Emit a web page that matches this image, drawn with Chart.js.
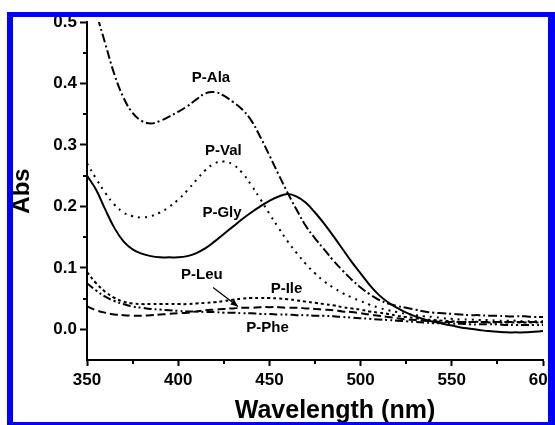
<!DOCTYPE html>
<html>
<head>
<meta charset="utf-8">
<title>Abs spectra</title>
<script src="https://cdn.jsdelivr.net/npm/chart.js@4.4.1/dist/chart.umd.min.js"></script>
<style>
    html, body { margin: 0; padding: 0; background: #fff; overflow: hidden; }
    #wrap { position: relative; width: 555px; height: 425px; }
    #frame {
        position: absolute; left: 7px; top: 12px; right: 0; bottom: 0;
        box-sizing: border-box;
        border-style: solid; border-color: #0000ff;
        border-width: 5px 7px 3px 6px;
        pointer-events: none;
    }
</style>
</head>
<body>
<div id="wrap">
    <canvas id="absChart" width="555" height="425"></canvas>
    <div id="frame"></div>
</div>
<script>
// Data
const wavelengths = [350, 355, 360, 365, 370, 375, 380, 385, 390, 395, 400, 405, 410, 415, 420, 425, 430, 435, 440, 445,
    450, 455, 460, 465, 470, 475, 480, 485, 490, 495, 500, 505, 510, 515, 520, 525, 530, 535, 540, 545,
    550, 555, 560, 565, 570, 575, 580, 585, 590, 595, 600];

const absAla = [0.560, 0.515, 0.465, 0.415, 0.377, 0.352, 0.339, 0.335, 0.339, 0.346, 0.354, 0.363, 0.374, 0.384, 0.386, 0.380, 0.370, 0.358, 0.340, 0.313,
    0.283, 0.252, 0.222, 0.194, 0.168, 0.148, 0.130, 0.112, 0.096, 0.081, 0.068, 0.057, 0.048, 0.042, 0.038, 0.035, 0.032, 0.029, 0.027, 0.026,
    0.025, 0.024, 0.023, 0.023, 0.022, 0.022, 0.021, 0.021, 0.021, 0.020, 0.020];

const absVal = [0.270, 0.245, 0.222, 0.203, 0.190, 0.184, 0.182, 0.184, 0.190, 0.199, 0.211, 0.226, 0.243, 0.259, 0.270, 0.273, 0.268, 0.255, 0.235, 0.212,
    0.188, 0.165, 0.143, 0.124, 0.106, 0.091, 0.078, 0.068, 0.059, 0.052, 0.046, 0.040, 0.035, 0.031, 0.028, 0.025, 0.023, 0.021, 0.020, 0.018,
    0.017, 0.016, 0.016, 0.015, 0.015, 0.014, 0.014, 0.014, 0.013, 0.013, 0.013];

const absGly = [0.250, 0.227, 0.195, 0.165, 0.143, 0.130, 0.123, 0.119, 0.117, 0.117, 0.117, 0.119, 0.124, 0.132, 0.143, 0.155, 0.167, 0.179, 0.190, 0.200,
    0.209, 0.216, 0.220, 0.216, 0.206, 0.190, 0.172, 0.152, 0.131, 0.110, 0.091, 0.072, 0.056, 0.044, 0.035, 0.027, 0.021, 0.016, 0.012, 0.009,
    0.006, 0.003, 0.001, -0.001, -0.003, -0.004, -0.005, -0.005, -0.005, -0.004, -0.003];

const absIle = [0.093, 0.075, 0.061, 0.051, 0.045, 0.042, 0.041, 0.041, 0.041, 0.041, 0.041, 0.041, 0.042, 0.043, 0.044, 0.046, 0.048, 0.050, 0.051, 0.051,
    0.051, 0.050, 0.049, 0.047, 0.045, 0.043, 0.041, 0.039, 0.036, 0.034, 0.032, 0.029, 0.027, 0.025, 0.022, 0.020, 0.018, 0.016, 0.015, 0.014,
    0.013, 0.012, 0.012, 0.012, 0.011, 0.011, 0.011, 0.011, 0.011, 0.011, 0.011];

const absPhe = [0.075, 0.063, 0.053, 0.046, 0.041, 0.037, 0.035, 0.033, 0.032, 0.031, 0.030, 0.029, 0.029, 0.028, 0.028, 0.027, 0.027, 0.026, 0.026, 0.025,
    0.025, 0.024, 0.024, 0.023, 0.023, 0.022, 0.022, 0.021, 0.020, 0.019, 0.018, 0.017, 0.016, 0.015, 0.014, 0.013, 0.012, 0.011, 0.010, 0.010,
    0.009, 0.009, 0.008, 0.008, 0.008, 0.008, 0.007, 0.007, 0.007, 0.007, 0.007];

const absLeu = [0.037, 0.031, 0.027, 0.024, 0.023, 0.022, 0.022, 0.023, 0.024, 0.025, 0.026, 0.027, 0.029, 0.031, 0.032, 0.033, 0.034, 0.035, 0.035, 0.036,
    0.036, 0.036, 0.035, 0.035, 0.034, 0.033, 0.032, 0.031, 0.029, 0.028, 0.026, 0.024, 0.022, 0.020, 0.018, 0.016, 0.015, 0.014, 0.013, 0.012,
    0.012, 0.012, 0.012, 0.012, 0.012, 0.012, 0.012, 0.012, 0.012, 0.012, 0.012];

const seriesNames = ['P-Ala', 'P-Val', 'P-Gly', 'P-Ile', 'P-Phe', 'P-Leu'];
const seriesValues = [absAla, absVal, absGly, absIle, absPhe, absLeu];
const seriesDashes = [[9, 3, 2, 3], [2, 5], [], [3, 3], [8, 3, 2, 3, 2, 3], [8, 4]];

// curve labels placed in data units (wavelength, abs)
const labelNames = ['P-Ala', 'P-Val', 'P-Gly', 'P-Leu', 'P-Ile', 'P-Phe'];
const labelX = [418, 424.8, 424, 413, 459.4, 449];
const labelY = [0.409, 0.291, 0.189, 0.089, 0.066, 0.002];
const leuArrow = [[419.1, 0.068], [432.8, 0.037]];

const xTicksMinor = [375, 425, 475, 525, 575];
const yTicksMinor = [0.05, 0.15, 0.25, 0.35, 0.45];

const FONT = '"Liberation Sans", Arial, sans-serif';

const datasets = seriesNames.map((name, i) => ({
    label: name,
    data: wavelengths.map((w, j) => ({ x: w, y: seriesValues[i][j] })),
    borderColor: '#000',
    borderWidth: 2,
    borderDash: seriesDashes[i],
    pointRadius: 0,
    tension: 0.4,
    fill: false
}));

// draws minor ticks, curve labels, the arrow and the axis titles
const annotate = {
    id: 'annotate',
    afterDraw(chart) {
        const ctx = chart.ctx;
        const xs = chart.scales.x;
        const ys = chart.scales.y;
        const area = chart.chartArea;
        ctx.save();
        ctx.strokeStyle = '#000';
        ctx.lineWidth = 2;
        ctx.setLineDash([]);
        xTicksMinor.forEach(v => {
            const px = Math.round(xs.getPixelForValue(v));
            ctx.beginPath();
            ctx.moveTo(px, area.bottom);
            ctx.lineTo(px, area.bottom + 4);
            ctx.stroke();
        });
        yTicksMinor.forEach(v => {
            const py = Math.round(ys.getPixelForValue(v));
            ctx.beginPath();
            ctx.moveTo(area.left, py);
            ctx.lineTo(area.left - 4, py);
            ctx.stroke();
        });

        ctx.fillStyle = '#000';
        ctx.font = 'bold 15px ' + FONT;
        ctx.textAlign = 'center';
        ctx.textBaseline = 'middle';
        labelNames.forEach((t, i) => {
            ctx.fillText(t, xs.getPixelForValue(labelX[i]), ys.getPixelForValue(labelY[i]));
        });

        // arrow for P-Leu
        const ax0 = xs.getPixelForValue(leuArrow[0][0]), ay0 = ys.getPixelForValue(leuArrow[0][1]);
        const ax1 = xs.getPixelForValue(leuArrow[1][0]), ay1 = ys.getPixelForValue(leuArrow[1][1]);
        ctx.lineWidth = 1.2;
        ctx.beginPath();
        ctx.moveTo(ax0, ay0);
        ctx.lineTo(ax1, ay1);
        ctx.stroke();
        const ang = Math.atan2(ay1 - ay0, ax1 - ax0);
        ctx.beginPath();
        ctx.moveTo(ax1, ay1);
        ctx.lineTo(ax1 - 8 * Math.cos(ang - 0.4), ay1 - 8 * Math.sin(ang - 0.4));
        ctx.lineTo(ax1 - 8 * Math.cos(ang + 0.4), ay1 - 8 * Math.sin(ang + 0.4));
        ctx.closePath();
        ctx.fill();

        // axis titles
        ctx.font = 'bold 25px ' + FONT;
        ctx.fillText('Wavelength (nm)', (area.left + area.right) / 2 + 20, 411);
        ctx.font = 'bold 24px ' + FONT;
        ctx.translate(22, (area.top + area.bottom) / 2);
        ctx.rotate(-Math.PI / 2);
        ctx.fillText('Abs', 0, 0);
        ctx.restore();
    }
};

new Chart(document.getElementById('absChart'), {
    type: 'line',
    data: { datasets },
    options: {
        responsive: false,
        animation: false,
        devicePixelRatio: 1,
        layout: { padding: { top: 22, right: 12, left: 0, bottom: 0 } },
        plugins: { legend: { display: false }, tooltip: { enabled: false } },
        scales: {
            x: {
                type: 'linear',
                min: 350,
                max: 600,
                afterFit: s => { s.height = 65; s.paddingLeft = 0; s.paddingRight = 0; },
                ticks: {
                    stepSize: 50,
                    color: '#000',
                    padding: 4,
                    font: { family: FONT, size: 17, weight: 'bold' },
                    maxRotation: 0
                },
                grid: { drawOnChartArea: false, tickLength: 6, tickWidth: 2, tickColor: '#000' },
                border: { color: '#000', width: 2 }
            },
            y: {
                min: -0.05,
                max: 0.5,
                afterFit: s => { s.width = 87; s.paddingTop = 0; s.paddingBottom = 0; },
                ticks: {
                    stepSize: 0.1,
                    includeBounds: false,
                    color: '#000',
                    padding: 3,
                    font: { family: FONT, size: 17, weight: 'bold' },
                    callback: v => v.toFixed(1)
                },
                grid: { drawOnChartArea: false, tickLength: 7, tickWidth: 2, tickColor: '#000' },
                border: { color: '#000', width: 2 }
            }
        }
    },
    plugins: [annotate]
});
</script>
</body>
</html>
